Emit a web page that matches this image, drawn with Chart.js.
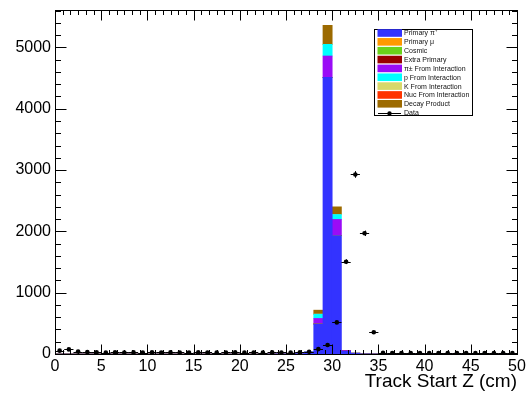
<!DOCTYPE html>
<html lang="en">
<head>
<meta charset="UTF-8">
<title>Track Start Z</title>
<script src="https://cdn.jsdelivr.net/npm/chart.js@4.4.1/dist/chart.umd.min.js"></script>
<style>
  body { margin: 0; background: #fff; }
  #wrap { width: 528px; height: 393px; }
</style>
</head>
<body>
<div id="wrap"><canvas id="zChart" width="528" height="393"></canvas></div>
<script>
// 1 cm bins, 0 - 50 cm
const binCenters = [
  0.5, 1.5, 2.5, 3.5, 4.5, 5.5, 6.5, 7.5, 8.5, 9.5,
  10.5, 11.5, 12.5, 13.5, 14.5, 15.5, 16.5, 17.5, 18.5, 19.5,
  20.5, 21.5, 22.5, 23.5, 24.5, 25.5, 26.5, 27.5, 28.5, 29.5,
  30.5, 31.5, 32.5, 33.5, 34.5, 35.5, 36.5, 37.5, 38.5, 39.5,
  40.5, 41.5, 42.5, 43.5, 44.5, 45.5, 46.5, 47.5, 48.5, 49.5
];

// MC stack, one array per category (bottom to top)
const primaryPi = [
  0, 0, 0, 0, 0, 0, 0, 0, 0, 0,
  0, 0, 0, 0, 0, 0, 0, 0, 0, 0,
  0, 0, 0, 3, 4, 5, 8, 20, 490, 4510,
  1930, 45, 10, 4, 3, 2, 0, 0, 0, 0,
  0, 0, 0, 0, 0, 0, 0, 0, 0, 0
];
const primaryMu = new Array(50).fill(0);
const cosmic = new Array(50).fill(0);
const extraPrimary = new Array(50).fill(0);
const piInteraction = [
  0, 0, 0, 0, 0, 0, 0, 0, 0, 0,
  0, 0, 0, 0, 0, 0, 0, 0, 0, 0,
  0, 0, 4, 6, 8, 8, 10, 15, 90, 350,
  265, 15, 5, 0, 0, 0, 0, 0, 0, 6,
  6, 0, 0, 0, 0, 0, 0, 0, 0, 0
];
const pInteraction = [
  0, 0, 0, 0, 0, 0, 0, 0, 0, 0,
  0, 0, 0, 0, 0, 0, 0, 0, 0, 0,
  0, 0, 0, 0, 0, 0, 0, 3, 70, 190,
  80, 0, 0, 0, 0, 0, 0, 0, 0, 0,
  0, 0, 0, 0, 0, 0, 0, 0, 0, 0
];
const kInteraction = new Array(50).fill(0);
const nucInteraction = new Array(50).fill(0);
const decayProduct = [
  0, 0, 0, 0, 0, 0, 0, 0, 0, 0,
  0, 0, 0, 0, 0, 0, 0, 0, 0, 0,
  0, 0, 0, 0, 0, 0, 0, 0, 65, 310,
  125, 0, 0, 0, 0, 0, 0, 0, 0, 0,
  0, 0, 0, 0, 0, 0, 0, 0, 0, 0
];

// data counts per bin
const dataCounts = [
  55, 75, 40, 32, 28, 24, 27, 25, 26, 24,
  27, 25, 26, 25, 24, 26, 25, 24, 25, 26,
  24, 25, 24, 26, 25, 24, 28, 37, 80, 147,
  515, 1505, 2928, 1968, 355, 18, 16, 15, 17, 15,
  16, 14, 15, 16, 15, 14, 15, 16, 15, 14
];

const xTicks = [0, 5, 10, 15, 20, 25, 30, 35, 40, 45, 50];
const yTicks = [0, 1000, 2000, 3000, 4000, 5000];
const yMax = 5610;

const stack = [
  { label: 'Primary \u03c0\u207a', values: primaryPi, color: '#3333ff' },
  { label: 'Primary \u03bc', values: primaryMu, color: '#ff9900' },
  { label: 'Cosmic', values: cosmic, color: '#6ad21a' },
  { label: 'Extra Primary', values: extraPrimary, color: '#990000' },
  { label: '\u03c0\u00b1 From Interaction', values: piInteraction, color: '#9a0cf6' },
  { label: 'p From Interaction', values: pInteraction, color: '#00ffff' },
  { label: 'K From Interaction', values: kInteraction, color: '#d8d86a' },
  { label: 'Nuc From Interaction', values: nucInteraction, color: '#ff3300' },
  { label: 'Decay Product', values: decayProduct, color: '#9c6a00' }
];

const FONT = "'Liberation Sans', Arial, Helvetica, sans-serif";

const datasets = [{
  type: 'line',
  label: 'Data',
  yAxisID: 'yd',
  order: 0,
  data: dataCounts.map((v, i) => ({ x: binCenters[i], y: v })),
  showLine: false,
  pointRadius: 2.3,
  pointBackgroundColor: '#000',
  pointBorderWidth: 0
}];
stack.forEach(s => {
  datasets.push({
    type: 'bar',
    label: s.label,
    yAxisID: 'y',
    order: 1,
    data: s.values.map((v, i) => ({ x: binCenters[i], y: v })),
    backgroundColor: s.color,
    borderWidth: 0,
    barPercentage: 1,
    categoryPercentage: 1
  });
});

const crisp = v => Math.round(v) + 0.5;

// ROOT-like frame, inward ticks, error bars and the legend box
const rootStyle = {
  id: 'rootStyle',
  afterDatasetsDraw(chart) {
    const { ctx } = chart;
    const x = chart.scales.x, yd = chart.scales.yd;
    ctx.save();
    ctx.strokeStyle = '#000';
    ctx.lineWidth = 1;
    dataCounts.forEach((n, i) => {
      const c = binCenters[i];
      const px = x.getPixelForValue(c);
      const py = yd.getPixelForValue(n);
      const e = Math.sqrt(n);
      ctx.beginPath();
      ctx.moveTo(x.getPixelForValue(c - 0.5), crisp(py));
      ctx.lineTo(x.getPixelForValue(c + 0.5), crisp(py));
      ctx.moveTo(crisp(px), yd.getPixelForValue(n - e));
      ctx.lineTo(crisp(px), yd.getPixelForValue(n + e));
      ctx.stroke();
    });
    ctx.restore();
  },
  afterDraw(chart) {
    const { ctx, chartArea: a } = chart;
    const x = chart.scales.x, y = chart.scales.y;
    const L = crisp(a.left), R = crisp(a.right), T = crisp(a.top), B = crisp(a.bottom);
    ctx.save();
    ctx.strokeStyle = '#000';
    ctx.lineWidth = 1;
    ctx.strokeRect(L, T, R - L, B - T);

    ctx.beginPath();
    // x ticks: majors every 5, six subdivisions
    for (let k = 0; k <= 60; k++) {
      const v = k * 5 / 6;
      const px = crisp(x.getPixelForValue(v));
      const len = k % 6 === 0 ? 10 : 4.5;
      ctx.moveTo(px, B); ctx.lineTo(px, B - len);
      ctx.moveTo(px, T); ctx.lineTo(px, T + len);
    }
    // y ticks: majors every 1000, minors every 200
    for (let v = 0; v <= yMax; v += 200) {
      const py = crisp(y.getPixelForValue(v));
      const len = v % 1000 === 0 ? 11 : 5.5;
      ctx.moveTo(L, py); ctx.lineTo(L + len, py);
      ctx.moveTo(R, py); ctx.lineTo(R - len, py);
    }
    ctx.stroke();

    // legend
    const bx = 374.5, by = 29.5, bw = 98, bh = 86;
    ctx.fillStyle = '#fff';
    ctx.fillRect(bx, by, bw, bh);
    ctx.strokeRect(bx, by, bw, bh);
    const rowH = 8.85;
    ctx.font = '7px ' + FONT;
    ctx.textBaseline = 'middle';
    stack.forEach((s, i) => {
      const cy = by + 3 + rowH * i + 0.5;
      ctx.fillStyle = s.color;
      ctx.fillRect(377.5, cy - 3.8, 24.5, 7.6);
      ctx.fillStyle = '#111';
      ctx.fillText(s.label, 404, cy + 0.5);
    });
    const dy = by + 3 + rowH * 9 + 0.5;
    ctx.beginPath();
    ctx.moveTo(378, Math.round(dy) + 0.5); ctx.lineTo(401, Math.round(dy) + 0.5);
    ctx.stroke();
    ctx.fillStyle = '#000';
    ctx.beginPath();
    ctx.arc(389.5, Math.round(dy) + 0.5, 2.2, 0, Math.PI * 2);
    ctx.fill();
    ctx.fillStyle = '#111';
    ctx.fillText('Data', 404, dy + 0.5);
    ctx.restore();
  }
};

new Chart(document.getElementById('zChart'), {
  type: 'bar',
  data: { datasets: datasets },
  plugins: [rootStyle],
  options: {
    responsive: false,
    animation: false,
    events: [],
    layout: { padding: { top: 10, right: 11, left: 0, bottom: 0 } },
    plugins: { legend: { display: false }, tooltip: { enabled: false } },
    scales: {
      x: {
        type: 'linear',
        min: 0,
        max: 50,
        stacked: true,
        offset: false,
        grid: { display: false, drawTicks: false },
        border: { display: false },
        afterBuildTicks: s => { s.ticks = xTicks.map(v => ({ value: v })); },
        afterFit: s => { s.height = 39; s.paddingLeft = 0; s.paddingRight = 0; },
        ticks: {
          autoSkip: false,
          maxRotation: 0,
          padding: 3,
          color: '#000',
          font: { family: FONT, size: 16 },
          callback: v => String(v)
        },
        title: {
          display: true,
          text: 'Track Start Z (cm)',
          align: 'end',
          color: '#000',
          padding: 0,
          font: { family: FONT, size: 19 }
        }
      },
      y: {
        stacked: true,
        min: 0,
        max: yMax,
        grid: { display: false, drawTicks: false },
        border: { display: false },
        afterBuildTicks: s => { s.ticks = yTicks.map(v => ({ value: v })); },
        afterFit: s => { s.width = 55; s.paddingTop = 0; s.paddingBottom = 0; },
        ticks: {
          padding: 4,
          color: '#000',
          font: { family: FONT, size: 16 },
          callback: v => String(v)
        }
      },
      yd: {
        display: false,
        stacked: false,
        min: 0,
        max: yMax
      }
    }
  }
});
</script>
</body>
</html>
